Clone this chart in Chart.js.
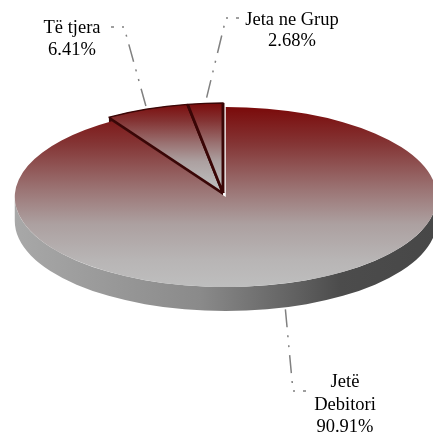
<!DOCTYPE html>
<html lang="sq">
<head>
    <meta charset="UTF-8">
    <title>Struktura e primeve</title>
    <script src="https://cdn.jsdelivr.net/npm/chart.js@4.4.0/dist/chart.umd.min.js"></script>
    <style>
        html, body {
            margin: 0;
            padding: 0;
            background: #fff;
        }
        .chart-box {
            width: 433px;
            height: 434px;
        }
    </style>
</head>
<body>
    <div class="chart-box">
        <canvas id="pieChart"></canvas>
    </div>

    <script>
        // Te dhenat
        const categories = ["Jetë Debitori", "Të tjera", "Jeta ne Grup"];
        const shares = [90.91, 6.41, 2.68];

        // Pamja 3D: qendra, rrezet e elipses dhe trashesia ne ekran
        const CX = 223, CY = 193, RX = 211, RY = 90, DEPTH = 24;
        const EXPLODE = 10; // sa del jashte pjesa e pare (koordinata te grafikut)

        // Etiketat: qendra e tekstit, linjat baze, pika e kthimit dhe fundi i vijes
        const labelLayout = [
            { cx: 345, base: [387, 410, 432], wrap: true,  bend: [293, 391], end: [306, 391] },
            { cx: 72,  base: [33, 55],        wrap: false, bend: [124, 27],  end: [111, 27] },
            { cx: 292, base: [25, 46],        wrap: false, bend: [226, 18],  end: [239, 18] },
        ];

        const topStops = [
            [0, "#7a0a0a"], [0.2, "#843434"], [0.45, "#9a7272"],
            [0.65, "#aca0a0"], [0.85, "#b8b5b5"], [1, "#bebebe"],
        ];

        function sliceFill(context) {
            const chart = context.chart;
            const area = chart.chartArea;
            const ctrl = chart.getDatasetMeta(0).controller;
            if (!area || !ctrl || !ctrl.outerRadius) return "#9a7272";
            const cy = (area.top + area.bottom) / 2;
            const r = ctrl.outerRadius;
            // pjesa e madhe shkon deri poshte, te voglat deri ne qender
            const bottom = context.dataIndex === 0 ? cy + r : cy;
            const g = chart.ctx.createLinearGradient(0, cy - r, 0, bottom);
            topStops.forEach(s => g.addColorStop(s[0], s[1]));
            return g;
        }

        function explodeOf(i) {
            return i === 0 ? EXPLODE : 0;
        }

        // pike ne koordinatat e grafikut -> pike ne ekran
        function toScreen(arc, x, y) {
            const r = arc.outerRadius;
            return [CX + (x - arc.x) * RX / r, CY + (y - arc.y) * RY / r];
        }

        const pie3d = {
            id: "pie3d",
            beforeDatasetDraw(chart, args) {
                const ctx = chart.ctx;
                const arcs = args.meta.data;
                const arc = arcs[0];
                const r = arc.outerRadius;
                const sy = RY / r;
                const d = DEPTH / sy;
                ctx.save();
                ctx.translate(CX, CY);
                ctx.scale(RX / r, sy);
                ctx.translate(-arc.x, -arc.y);

                // muri i pjeses pas asaj te nxjerre, duket neper te carren
                const next = arcs[1];
                const ex = next.x + Math.cos(next.startAngle) * r;
                const ey = next.y + Math.sin(next.startAngle) * r;
                ctx.beginPath();
                ctx.moveTo(next.x, next.y);
                ctx.lineTo(ex, ey);
                ctx.lineTo(ex, ey + d);
                ctx.lineTo(next.x, next.y + d);
                ctx.closePath();
                ctx.fillStyle = "#3a0a0a";
                ctx.fill();

                // ana e perparme e pjeses se madhe
                const half = (arc.startAngle + arc.endAngle) / 2;
                const x = arc.x + Math.cos(half) * EXPLODE;
                const y = arc.y + Math.sin(half) * EXPLODE;
                const g = ctx.createLinearGradient(x - r, 0, x + r, 0);
                g.addColorStop(0, "#a8a8a8");
                g.addColorStop(0.44, "#8a8a8a");
                g.addColorStop(0.67, "#606060");
                g.addColorStop(0.77, "#4c4c4c");
                g.addColorStop(1, "#474747");
                ctx.beginPath();
                ctx.arc(x, y, r, 0, Math.PI);
                ctx.arc(x, y + d, r, Math.PI, 0, true);
                ctx.closePath();
                ctx.fillStyle = g;
                ctx.fill();

                // faqja e siperme
                arcs.forEach((a, i) => {
                    const mid = (a.startAngle + a.endAngle) / 2;
                    ctx.save();
                    ctx.translate(Math.cos(mid) * explodeOf(i), Math.sin(mid) * explodeOf(i));
                    a.draw(ctx);
                    ctx.restore();
                });
                ctx.restore();
                return false;
            },
            afterDraw(chart) {
                const ctx = chart.ctx;
                const arcs = chart.getDatasetMeta(0).data;
                ctx.save();
                arcs.forEach((arc, i) => {
                    const lay = labelLayout[i];
                    const mid = (arc.startAngle + arc.endAngle) / 2;
                    const px = arc.x + Math.cos(mid) * (arc.outerRadius + explodeOf(i));
                    const py = arc.y + Math.sin(mid) * (arc.outerRadius + explodeOf(i));
                    let [sx, sy] = toScreen(arc, px, py);
                    if (Math.sin(mid) > 0) sy += DEPTH;

                    // vija nga etiketa te pjesa: vize-pike-pike
                    ctx.beginPath();
                    ctx.setLineDash([18, 8, 2, 8, 2, 8]);
                    ctx.lineDashOffset = 15;
                    ctx.strokeStyle = "#808080";
                    ctx.lineWidth = 1.5;
                    ctx.moveTo(lay.end[0], lay.end[1]);
                    ctx.lineTo(lay.bend[0], lay.bend[1]);
                    ctx.lineTo(sx, sy);
                    ctx.stroke();

                    const lines = lay.wrap ? categories[i].split(" ") : [categories[i]];
                    lines.push(shares[i].toFixed(2) + "%");
                    ctx.setLineDash([]);
                    ctx.fillStyle = "#000";
                    ctx.font = "18.5px 'Liberation Serif', 'Times New Roman', serif";
                    ctx.textAlign = "center";
                    ctx.textBaseline = "alphabetic";
                    lines.forEach((t, k) => ctx.fillText(t, lay.cx, lay.base[k]));
                });
                ctx.restore();
            }
        };

        new Chart(document.getElementById("pieChart"), {
            type: "pie",
            data: {
                labels: categories,
                datasets: [{
                    data: shares,
                    backgroundColor: sliceFill,
                    borderColor: "#3a0606",
                    borderWidth: [0, 3, 3],
                }],
            },
            options: {
                responsive: true,
                maintainAspectRatio: false,
                animation: false,
                events: [],
                layout: { padding: 0 },
                plugins: {
                    legend: { display: false },
                    tooltip: { enabled: false },
                },
            },
            plugins: [pie3d],
        });
    </script>
</body>
</html>
